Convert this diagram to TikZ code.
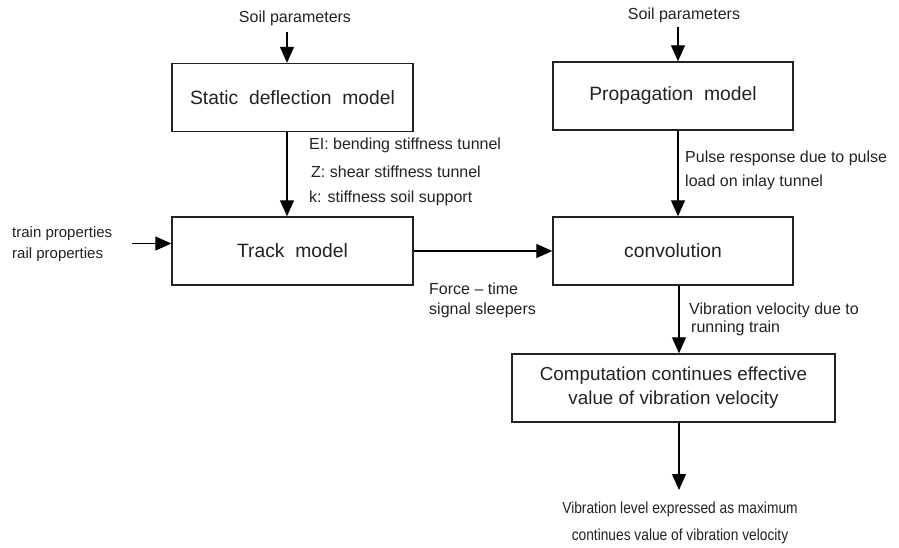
\documentclass[tikz,border=0pt]{standalone}
\usepackage{fontspec}
\setmainfont{Liberation Sans}
\usetikzlibrary{arrows.meta}
\definecolor{ink}{HTML}{222222}
\begin{document}
\begin{tikzpicture}[x=1pt,y=-1pt,
  box/.style={draw=ink,line width=1.4pt,minimum width=241pt,minimum height=68pt,inner sep=0pt,
    font=\fontsize{19.3}{23}\selectfont,text=ink},
  lbl/.style={font=\fontsize{16}{18}\selectfont,text=ink,inner sep=0pt},
  arr/.style={draw=black,line width=1.3pt,-{Triangle[width=14pt,length=16pt]}}]
\useasboundingbox (0,0) rectangle (899,548);
% boxes
\node[box] (static) at (292.5,97.5) {Static\ \ deflection\ \ model};
\node[box,minimum width=240pt] (prop) at (673,96) {Propagation\ \ model};
\node[box] (track) at (292.5,251) {Track\ \ model};
\node[box,minimum width=240pt] (conv) at (673,251) {convolution};
\node[box,minimum width=323pt,align=center,font=\fontsize{18.8}{24}\selectfont] (comp) at (673.5,388)
  {Computation continues effective\\value of vibration velocity};
% labels
\node[lbl] (soil1) at (295,18) {Soil parameters};
\node[lbl] (soil2) at (684,15) {Soil parameters};
\node[lbl,anchor=west] (ei) at (309,145) {EI: bending stiffness tunnel};
\node[lbl,anchor=west] (z) at (311,172) {Z: shear stiffness tunnel};
\node[lbl,anchor=west] (k) at (309,198) {k: stiffness soil support};
\node[lbl,anchor=west] (pulse1) at (685,158) {Pulse response due to pulse};
\node[lbl,anchor=west] (pulse2) at (685,182) {load on inlay tunnel};
\node[lbl,anchor=west,font=\fontsize{15}{18}\selectfont] (train) at (12,234) {train properties};
\node[lbl,anchor=west,font=\fontsize{15}{18}\selectfont] (rail) at (12,255) {rail properties};
\node[lbl,anchor=west] (force1) at (429,289) {Force -- time};
\node[lbl,anchor=west] (force2) at (429,310) {signal sleepers};
\node[lbl,anchor=west] (vib1) at (689,310) {Vibration velocity due to};
\node[lbl,anchor=west] (vib2) at (691,328) {running train};
\node[lbl] (out1) at (680,509) {\scalebox{0.86}[1]{Vibration level expressed as maximum}};
\node[lbl] (out2) at (680,536) {\scalebox{0.86}[1]{continues value of vibration velocity}};
% connector anchors
\coordinate (s1) at (287,32);
\coordinate (s2) at (678,27);
\coordinate (tp) at (132,243.5);
\coordinate (oend) at (679,490);
% connectors
\draw[arr] (s1) -- (s1 |- static.north);
\draw[arr] (static.south -| s1) -- (track.north -| s1);
\draw[arr] (s2) -- (s2 |- prop.north);
\draw[arr] (prop.south -| s2) -- (conv.north -| s2);
\draw[arr] (tp) -- (tp -| track.west);
\draw[arr] (track.east) -- (conv.west);
\draw[arr] (conv.south -| oend) -- (comp.north -| oend);
\draw[arr] (comp.south -| oend) -- (oend);
\end{tikzpicture}
\end{document}
